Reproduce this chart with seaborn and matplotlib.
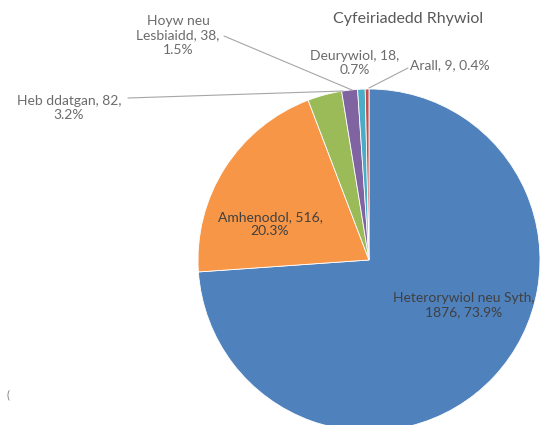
import matplotlib
matplotlib.use("Agg")
import matplotlib.pyplot as plt
import seaborn as sns

categories = ["Heterorywiol neu Syth", "Amhenodol", "Heb ddatgan",
              "Hoyw neu\nLesbiaidd", "Deurywiol", "Arall"]
counts = [1876, 516, 82, 38, 18, 9]
percents = ["73.9%", "20.3%", "3.2%", "1.5%", "0.7%", "0.4%"]
title = "Cyfeiriadedd Rhywiol"

colors = ["#4F81BD", "#F79646", "#9BBB59", "#8064A2", "#4BACC6", "#C0504D"]

sns.set_theme(style="white")
plt.rcParams["font.family"] = ["Lato", "DejaVu Sans"]

W, H = 549, 425
fig = plt.figure(figsize=(W / 100, H / 100), dpi=100)
ax = fig.add_axes([0, 0, 1, 1])

def Y(y):
    return H - y

cx, cy, r = 369, 260, 171
ax.pie(counts, colors=colors, startangle=90, counterclock=False,
       center=(cx, Y(cy)), radius=r,
       wedgeprops=dict(edgecolor="white", linewidth=0.6))
ax.set_xlim(0, W)
ax.set_ylim(0, H)
ax.set_aspect("equal")
ax.axis("off")

tc = "#6b6b6b"
fs = 10.0
ls = 1.25
ax.text(408, Y(19), title, ha="center", va="center", fontsize=11.5, color="#595959")

ax.text(464, Y(305), f"{categories[0]},\n{counts[0]}, {percents[0]}",
        ha="center", va="center", fontsize=fs, color="#404040", linespacing=ls)
ax.text(270, Y(224), f"{categories[1]}, {counts[1]},\n{percents[1]}",
        ha="center", va="center", fontsize=fs, color="#404040", linespacing=ls)
ax.text(69, Y(108), f"{categories[2]}, {counts[2]},\n{percents[2]}",
        ha="center", va="center", fontsize=fs, color=tc, linespacing=ls)
ax.text(178, Y(35), f"{categories[3]}, {counts[3]},\n{percents[3]}",
        ha="center", va="center", fontsize=fs, color=tc, linespacing=ls)
ax.text(355, Y(63), f"{categories[4]}, {counts[4]},\n{percents[4]}",
        ha="center", va="center", fontsize=fs, color=tc, linespacing=ls)
ax.text(410, Y(65), f"{categories[5]}, {counts[5]}, {percents[5]}",
        ha="left", va="center", fontsize=fs, color=tc)

lc = "#A6A6A6"
lines = [((224, 36), (352, 90)), ((128, 98), (343, 91)), ((408, 68), (369, 88))]
for (x0, y0), (x1, y1) in lines:
    ax.plot([x0, x1], [Y(y0), Y(y1)], color=lc, linewidth=0.8)

ax.text(8, Y(395), "(", fontsize=8, color="#7f7f7f", ha="center", va="center")

fig.savefig("out.png", dpi=100)
